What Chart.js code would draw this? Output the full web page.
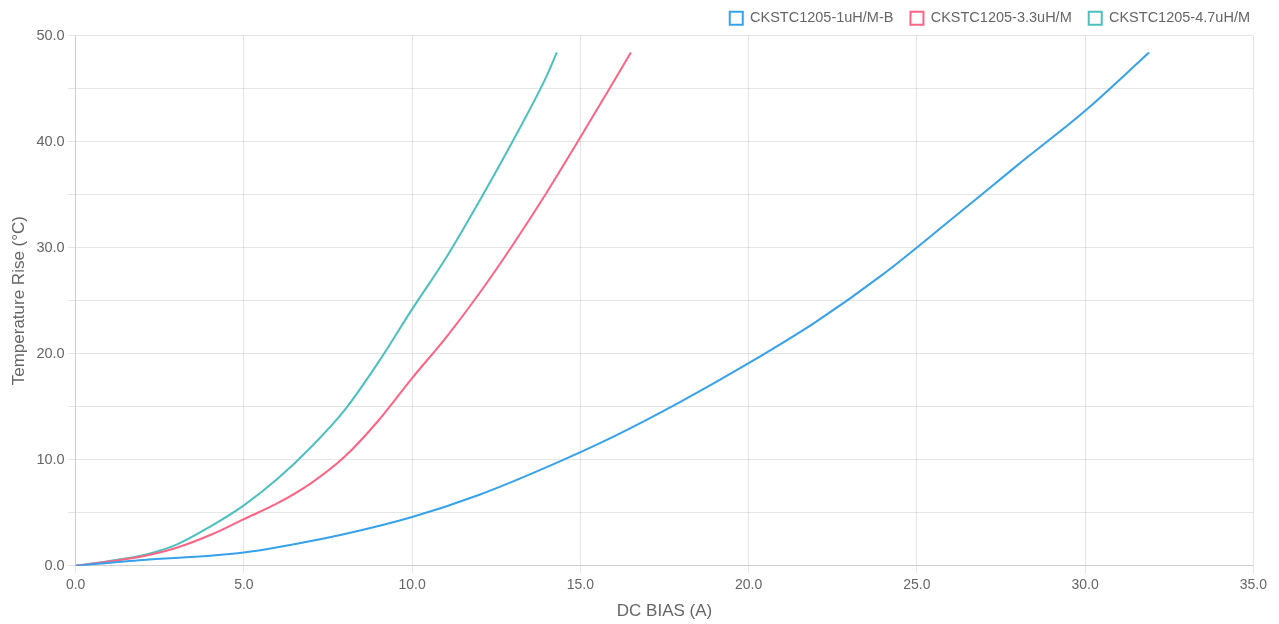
<!DOCTYPE html>
<html>
<head>
<meta charset="utf-8">
<script src="https://cdn.jsdelivr.net/npm/chart.js@4/dist/chart.umd.min.js"></script>
<style>
    html, body { margin: 0; padding: 0; background: #fff; }
    #wrap { width: 1279px; height: 624px; }
</style>
</head>
<body>
<div id="wrap"><canvas id="tempChart"></canvas></div>
<script>
// Seri isimleri
const seriesNames = ['CKSTC1205-1uH/M-B', 'CKSTC1205-3.3uH/M', 'CKSTC1205-4.7uH/M'];

// DC BIAS (A) değerleri ve sıcaklık artışı (°C)
const bias1uH = [0, 2, 4, 5, 6, 8, 10, 12, 14, 16, 18, 20, 22, 24, 26, 28, 30, 31.9];
const temp1uH = [0, 0.55, 0.95, 1.25, 1.75, 3.0, 4.6, 6.7, 9.3, 12.2, 15.5, 19.1, 23.0, 27.5, 32.6, 37.8, 42.9, 48.4];

const bias33uH = [0, 1, 2, 3, 4, 5, 6, 7, 8, 9, 10, 11, 12, 13, 14, 15, 16, 16.5];
const temp33uH = [0, 0.4, 0.9, 1.7, 2.9, 4.4, 5.9, 7.8, 10.3, 13.7, 17.7, 21.5, 25.7, 30.3, 35.2, 40.4, 45.7, 48.4];

const bias47uH = [0, 1, 2, 3, 4, 5, 6, 7, 8, 9, 10, 11, 12, 13, 14, 14.3];
const temp47uH = [0, 0.45, 1.0, 2.0, 3.7, 5.7, 8.2, 11.2, 14.7, 19.2, 24.2, 29.0, 34.4, 40.1, 46.2, 48.4];

const seriesColors = ['rgb(54, 162, 235)', 'rgb(255, 99, 132)', 'rgb(75, 192, 192)'];

function toPoints(xs, ys) {
    return xs.map((x, i) => ({ x: x, y: ys[i] }));
}

const seriesData = [
    toPoints(bias1uH, temp1uH),
    toPoints(bias33uH, temp33uH),
    toPoints(bias47uH, temp47uH)
];

Chart.defaults.font.family = '"Liberation Sans", Arial, Helvetica, sans-serif';
Chart.defaults.color = '#666';

const ctx = document.getElementById('tempChart').getContext('2d');
const tempChart = new Chart(ctx, {
    type: 'line',
    data: {
        datasets: seriesNames.map((name, i) => ({
            label: name,
            data: seriesData[i],
            borderColor: seriesColors[i],
            backgroundColor: '#ffffff',
            borderWidth: 2,
            pointRadius: 0,
            cubicInterpolationMode: 'monotone',
            fill: false
        }))
    },
    options: {
        responsive: true,
        maintainAspectRatio: false,
        animation: false,
        layout: {
            padding: { left: 5, right: 12, top: -6 }
        },
        plugins: {
            legend: {
                position: 'top',
                align: 'end',
                labels: {
                    boxWidth: 13,
                    boxHeight: 13,
                    padding: 17,
                    font: { size: 14.5 }
                }
            },
            tooltip: { enabled: false }
        },
        scales: {
            x: {
                type: 'linear',
                min: 0,
                max: 35,
                ticks: {
                    stepSize: 5,
                    font: { size: 14 },
                    callback: v => v.toFixed(1)
                },
                // sağ kenarda biraz daha boşluk
                afterFit: scale => { scale.paddingRight += 9; },
                title: {
                    display: true,
                    text: 'DC BIAS (A)',
                    font: { size: 17 },
                    padding: { top: 5, bottom: 2 }
                }
            },
            y: {
                min: 0,
                max: 50,
                ticks: {
                    stepSize: 5,
                    font: { size: 14.5 },
                    callback: v => (v % 10 === 0 ? v.toFixed(1) : '')
                },
                title: {
                    display: true,
                    text: 'Temperature Rise (°C)',
                    font: { size: 17 }
                }
            }
        }
    }
});
</script>
</body>
</html>
